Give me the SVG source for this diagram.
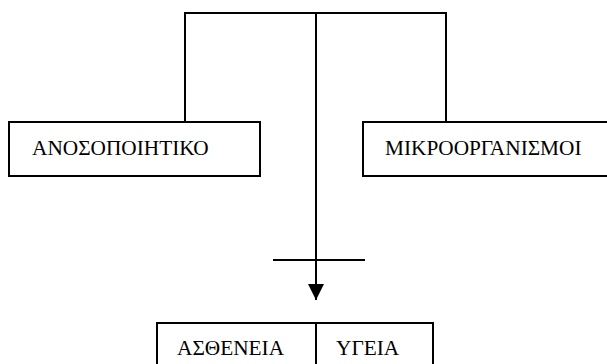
<svg xmlns="http://www.w3.org/2000/svg" width="607" height="364" viewBox="0 0 607 364">
<style>
.box{fill:#fff;stroke:#000;stroke-width:2}
.ln{fill:none;stroke:#000;stroke-width:2}
.t{font-family:'Liberation Serif','Times New Roman','DejaVu Serif',serif;font-size:21.3px;fill:#000}
</style>
<defs>
<marker id="arr" markerUnits="userSpaceOnUse" markerWidth="16" markerHeight="16" viewBox="0 0 16 16" refX="16" refY="8" orient="auto">
<path d="M0,0 L16,8 L0,16 Z" fill="#000"/>
</marker>
</defs>
<rect width="607" height="364" fill="#fff"/>
<g id="connectors">
<path class="ln" d="M185,122 V13 H446 V122"/>
<path class="ln" d="M316,13 V300" marker-end="url(#arr)"/>
<path class="ln" d="M273,260 H365"/>
</g>
<g id="node-anosopoihtiko">
<rect class="box" x="9" y="122" width="251" height="54"/>
<text class="t" x="32" y="155">ΑΝΟΣΟΠΟΙΗΤΙΚΟ</text>
</g>
<g id="node-mikroorganismoi">
<rect class="box" x="363" y="122" width="260" height="54"/>
<text class="t" x="385" y="155">ΜΙΚΡΟΟΡΓΑΝΙΣΜΟΙ</text>
</g>
<g id="node-astheneia">
<rect class="box" x="157" y="323" width="159" height="60"/>
<text class="t" x="177" y="355">ΑΣΘΕΝΕΙΑ</text>
</g>
<g id="node-ygeia">
<rect class="box" x="316" y="323" width="117" height="60"/>
<text class="t" x="336" y="355">ΥΓΕΙΑ</text>
</g>
</svg>
